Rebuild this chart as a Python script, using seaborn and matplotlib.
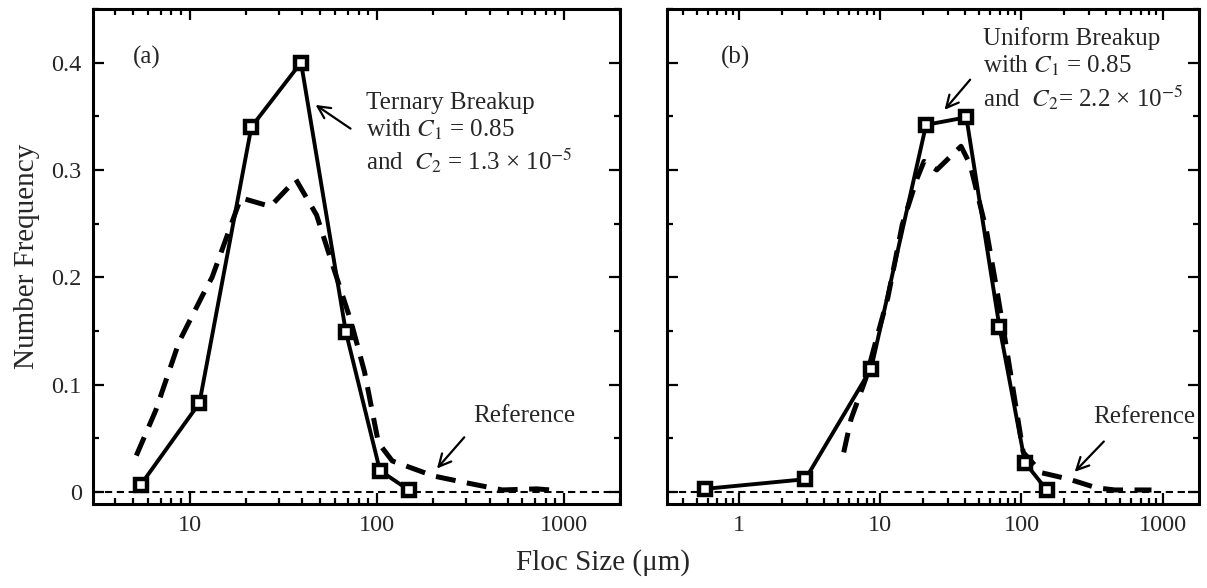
import numpy as np
import pandas as pd
import matplotlib
matplotlib.use("Agg")
import matplotlib.pyplot as plt
from matplotlib.ticker import LogLocator, MultipleLocator, NullFormatter, FixedLocator, FixedFormatter
import seaborn as sns

# ---------------- data ----------------
# Panel (a): Ternary breakup model (solid with squares) and reference (dashed)
a_model_x = [5.5, 11.3, 21.4, 39.4, 68.4, 104, 148]
a_model_y = [0.007, 0.083, 0.340, 0.400, 0.149, 0.020, 0.002]
a_ref_x = [5.2, 6.6, 8.8, 11.8, 13.2, 18.8, 27, 37, 47.7, 56.5, 72.8, 86, 102, 121, 201, 294, 468, 713, 845]
a_ref_y = [0.034, 0.076, 0.14, 0.184, 0.20, 0.274, 0.266, 0.291, 0.258, 0.218, 0.159, 0.112, 0.046, 0.029, 0.015, 0.009, 0.002, 0.003, 0.002]

# Panel (b): Uniform breakup model and reference
b_model_x = [0.57, 2.94, 8.61, 21.1, 40.7, 69.8, 106, 151]
b_model_y = [0.003, 0.012, 0.115, 0.342, 0.349, 0.154, 0.0275, 0.002]
b_ref_x = [5.5, 6.2, 7.9, 9.4, 11.3, 14.3, 18.2, 20.4, 25.1, 37.3, 43.3, 56.6, 67.8, 76.4, 103, 139, 218, 340, 459, 835]
b_ref_y = [0.037, 0.068, 0.106, 0.143, 0.181, 0.249, 0.292, 0.308, 0.300, 0.322, 0.305, 0.243, 0.184, 0.143, 0.037, 0.018, 0.012, 0.004, 0.002, 0.002]

y_ticks = [0, 0.1, 0.2, 0.3, 0.4]
y_tick_labels = ["0", "0.1", "0.2", "0.3", "0.4"]

# ---------------- style ----------------
sns.set_theme(style="ticks")
plt.rcParams["font.family"] = ["Liberation Serif", "DejaVu Serif"]
plt.rcParams["mathtext.fontset"] = "stix"

fig = plt.figure(figsize=(12.07, 5.88), dpi=100)
ax_a = fig.add_axes([0.077, 0.143, 0.437, 0.842])
ax_b = fig.add_axes([0.553, 0.143, 0.440, 0.842])

def draw(ax, mx, my, rx, ry):
    dm = pd.DataFrame({"x": mx, "y": my})
    dr = pd.DataFrame({"x": rx, "y": ry})
    ax.axhline(0, color="black", lw=1.5, ls=(0, (3.5, 2.2)), zorder=1)
    sns.lineplot(data=dr, x="x", y="y", ax=ax, sort=False, color="black",
                 lw=3.6, estimator=None, zorder=2)
    ax.lines[-1].set_linestyle((0, (4, 2.3)))
    sns.lineplot(data=dm, x="x", y="y", ax=ax, sort=False, color="black",
                 lw=2.8, marker="s", markersize=8, markerfacecolor="white",
                 markeredgecolor="black", markeredgewidth=3.2, estimator=None, zorder=3)
    ax.set_xscale("log")
    ax.set_ylim(-0.011, 0.45)
    ax.yaxis.set_major_locator(FixedLocator(y_ticks))
    ax.yaxis.set_minor_locator(MultipleLocator(0.05))
    ax.xaxis.set_major_locator(LogLocator(base=10))
    ax.xaxis.set_minor_locator(LogLocator(base=10, subs=np.arange(2, 10)))
    ax.xaxis.set_minor_formatter(NullFormatter())
    ax.xaxis.set_major_formatter(plt.FuncFormatter(lambda v, p: f"{v:g}"))
    ax.tick_params(which="both", direction="in", top=True, right=True,
                   width=1.6, labelsize=17.5, color="black")
    ax.tick_params(which="major", length=8, pad=8)
    ax.tick_params(which="minor", length=4)
    for s in ax.spines.values():
        s.set_linewidth(2.2)
        s.set_color("black")
    ax.set_xlabel("")
    ax.set_ylabel("")

draw(ax_a, a_model_x, a_model_y, a_ref_x, a_ref_y)
draw(ax_b, b_model_x, b_model_y, b_ref_x, b_ref_y)

ax_a.set_xlim(3.05, 2000)
ax_b.set_xlim(0.31, 1800)
ax_a.yaxis.set_major_formatter(FixedFormatter(y_tick_labels))
ax_b.set_yticklabels([])

ax_a.set_ylabel("Number Frequency", fontsize=21, labelpad=8)
fig.text(0.5, 0.043, "Floc Size (\u03bcm)", ha="center", va="center", fontsize=21)

ts = 18
arrow = dict(arrowstyle="->", color="black", lw=1.6, mutation_scale=22)

# Panel (a) annotations
ax_a.text(5.9, 0.405, "(a)", fontsize=ts, ha="center", va="center")
ax_a.text(88, 0.373, "Ternary Breakup\nwith $C_1$ = 0.85\nand  $C_2$ = 1.3 \u00d7 10$^{-5}$",
          fontsize=ts, ha="left", va="top", linespacing=1.2)
ax_a.annotate("", xy=(45.8, 0.362), xytext=(74.5, 0.337), arrowprops=arrow)
ax_a.text(615, 0.071, "Reference", fontsize=ts, ha="center", va="center")
ax_a.annotate("", xy=(205, 0.02), xytext=(300, 0.053), arrowprops=arrow)

# Panel (b) annotations
ax_b.text(0.94, 0.405, "(b)", fontsize=ts, ha="center", va="center")
ax_b.text(53, 0.433, "Uniform Breakup\nwith $C_1$ = 0.85\nand  $C_2$= 2.2 \u00d7 10$^{-5}$",
          fontsize=ts, ha="left", va="top", linespacing=1.2)
ax_b.annotate("", xy=(27.7, 0.354), xytext=(44.6, 0.386), arrowprops=arrow)
ax_b.text(741, 0.07, "Reference", fontsize=ts, ha="center", va="center")
ax_b.annotate("", xy=(231, 0.017), xytext=(396, 0.049), arrowprops=arrow)

fig.savefig("out.png", dpi=100)
